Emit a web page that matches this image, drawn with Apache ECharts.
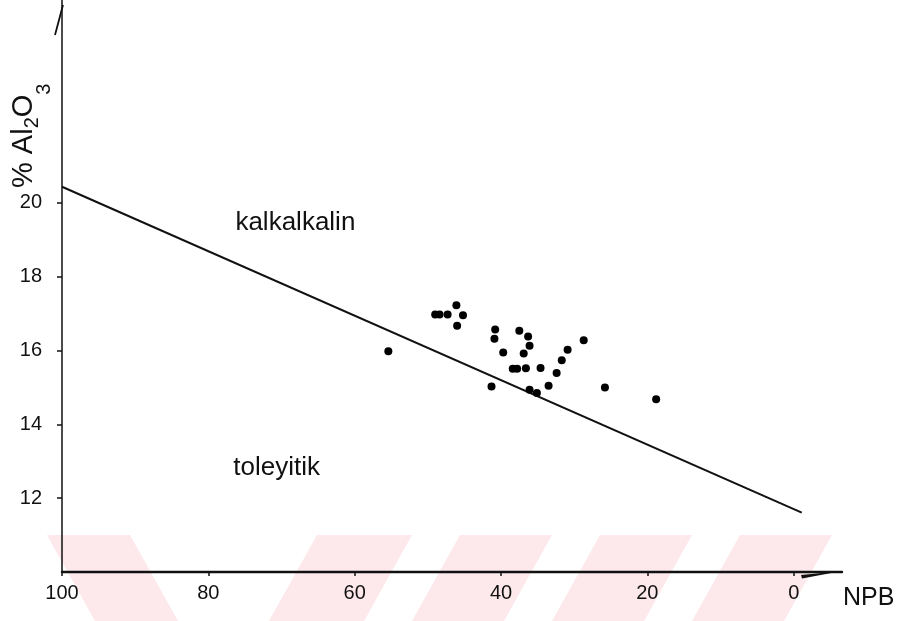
<!DOCTYPE html>
<html>
<head>
<meta charset="utf-8">
<script src="https://cdn.jsdelivr.net/npm/echarts@6/dist/echarts.min.js"></script>
<style>
html,body{margin:0;padding:0;background:#fff;}
#c{width:897px;height:621px;}
</style>
</head>
<body>
<div id="c"></div>
<script>
// Sample points: NPB (x) and % Al2O3 (y)
const npb = [55.4, 49.0, 48.4, 47.3, 46.1, 45.2, 46.0, 40.8, 40.9, 39.7, 37.5, 36.3, 36.1, 36.9,
             38.4, 37.8, 36.6, 34.6, 41.3, 36.1, 35.1, 33.5, 32.4, 31.7, 30.9, 28.7, 25.8, 18.8];
const al2o3 = [15.98, 16.98, 16.98, 16.98, 17.23, 16.96, 16.67, 16.57, 16.32, 15.95, 16.54, 16.38, 16.13, 15.92,
               15.51, 15.51, 15.52, 15.53, 15.03, 14.94, 14.85, 15.05, 15.39, 15.74, 16.02, 16.28, 15.00, 14.68];
// Discriminant line (kalkalkalin / toleyitik)
const lineNpb = [100, -1.1];
const lineAl = [20.44, 11.61];
// Tick labels
const xTicks = [0, 20, 40, 60, 80, 100];
const yTicks = [12, 14, 16, 18, 20];
// Field labels
const fieldNames = ['kalkalkalin', 'toleyitik'];
const fieldNpb = [76.3, 76.6];
const fieldAl = [19.1, 12.47];

const FONT = '"Liberation Sans", Arial, sans-serif';
const chart = echarts.init(document.getElementById('c'), null, {renderer: 'canvas'});

const option = {
  animation: false,
  backgroundColor: '#ffffff',
  grid: {left: 62, right: 55, top: 0, bottom: 49, outerBoundsMode: 'none', containLabel: false},
  xAxis: {
    type: 'value', inverse: true, min: -6.6, max: 100,
    name: 'NPB', nameLocation: 'start', nameGap: 1,
    nameTextStyle: {fontFamily: FONT, fontSize: 25, color: '#111', align: 'left', verticalAlign: 'top', padding: [14, 0, 0, 0]},
    axisLine: {show: true, onZero: false, lineStyle: {color: '#111', width: 2.4}},
    axisTick: {show: true, customValues: xTicks, length: 4, lineStyle: {color: '#111', width: 1.5}},
    axisLabel: {customValues: xTicks, margin: 11, fontFamily: FONT, fontSize: 20, color: '#111'},
    splitLine: {show: false}
  },
  yAxis: {
    type: 'value', min: 10, max: 25.5, position: 'left',
    axisLine: {show: true, onZero: false, lineStyle: {color: '#111', width: 1.5}},
    axisTick: {show: true, customValues: yTicks, length: 5, lineStyle: {color: '#111', width: 1.5}},
    axisLabel: {customValues: yTicks, margin: 20, fontFamily: FONT, fontSize: 20, color: '#111'},
    splitLine: {show: false}
  },
  series: [
    {
      type: 'line', data: lineNpb.map((v, i) => [v, lineAl[i]]),
      showSymbol: false, symbol: 'none', lineStyle: {color: '#111', width: 2}, z: 3, silent: true
    },
    {
      type: 'scatter', data: npb.map((v, i) => [v, al2o3[i]]),
      symbol: 'circle', symbolSize: 8, itemStyle: {color: '#000', opacity: 1}, z: 4, silent: true
    }
  ]
};
chart.setOption(option);

function px(v) { return chart.convertToPixel({gridIndex: 0}, v); }

const topPt = px([100, 25.5]);
const endPt = px([-6.6, 10]);
const graphics = [];

// faint watermark stripes at the bottom
const wmColor = '#fde8ec';
const wmTop = 535, wmBot = 621;
const wmShapes = [
  [[47, wmTop], [130, wmTop], [178, wmBot], [95, wmBot]],
  [[317, wmTop], [412, wmTop], [364, wmBot], [269, wmBot]],
  [[460, wmTop], [552, wmTop], [504, wmBot], [412, wmBot]],
  [[600, wmTop], [692, wmTop], [644, wmBot], [552, wmBot]],
  [[740, wmTop], [832, wmTop], [784, wmBot], [692, wmBot]]
];
wmShapes.forEach(p => graphics.push({type: 'polygon', z: -10, silent: true, shape: {points: p}, style: {fill: wmColor}}));

// arrow barbs
graphics.push({type: 'line', silent: true, z: 10, shape: {x1: topPt[0] + 1, y1: topPt[1] + 5, x2: topPt[0] - 7, y2: topPt[1] + 35}, style: {stroke: '#111', lineWidth: 1.8}});
graphics.push({type: 'polygon', silent: true, z: 10, shape: {points: [[endPt[0], endPt[1] - 1], [endPt[0] - 41, endPt[1] + 3], [endPt[0] - 40, endPt[1] + 6.5]]}, style: {fill: '#111'}});

// field labels
fieldNames.forEach((t, i) => {
  const p = px([fieldNpb[i], fieldAl[i]]);
  graphics.push({type: 'text', silent: true, z: 10, x: p[0], y: p[1],
    style: {text: t, fontFamily: FONT, fontSize: 26, fill: '#111', align: 'left', verticalAlign: 'bottom'}});
});

// y-axis title, rotated
graphics.push({
  type: 'text', silent: true, z: 10, x: 9, y: 188, rotation: Math.PI / 2,
  style: {
    text: '% Al{s2|2}O{s3|3}',
    fontFamily: FONT, fontSize: 29, fill: '#111', align: 'left', verticalAlign: 'top',
    lineHeight: 30,
    rich: {
      s2: {fontFamily: FONT, fontSize: 20, fill: '#111', lineHeight: 22, padding: [13, 0, 0, 0], verticalAlign: 'top'},
      s3: {fontFamily: FONT, fontSize: 20, fill: '#111', lineHeight: 22, padding: [25, 0, 0, 0], verticalAlign: 'top'}
    }
  }
});

chart.setOption({graphic: graphics});
</script>
</body>
</html>
